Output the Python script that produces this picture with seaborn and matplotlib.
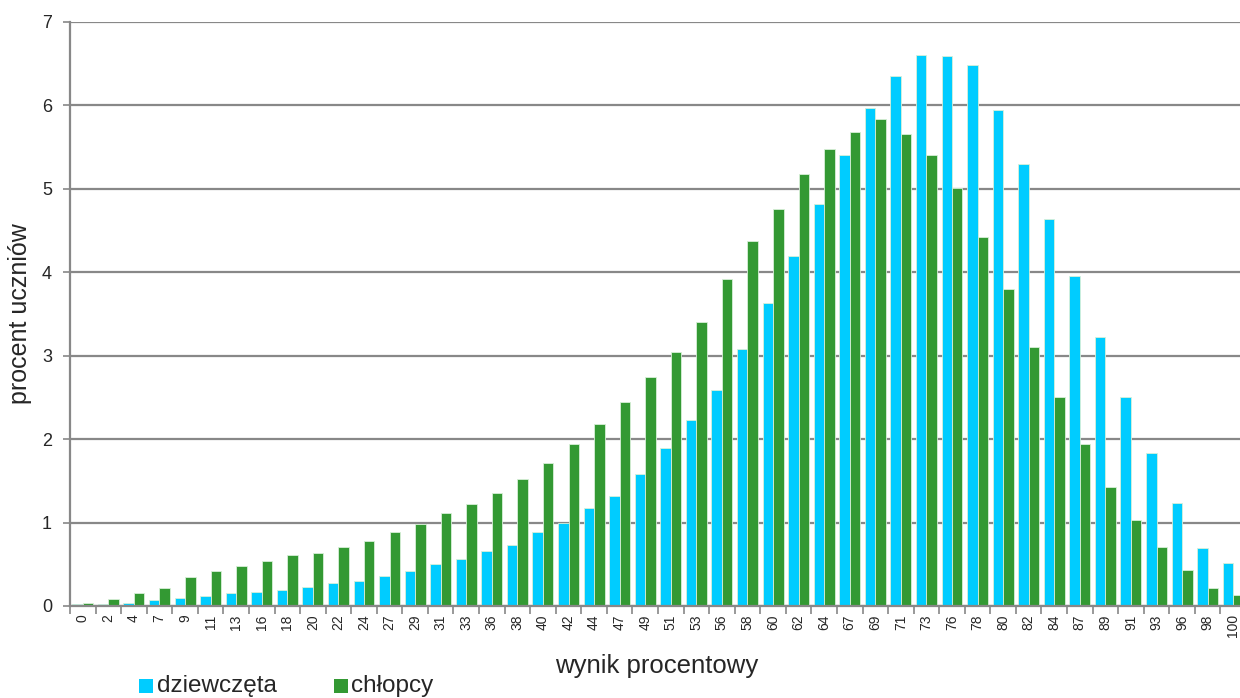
import pandas as pd
import numpy as np
import matplotlib
matplotlib.use("Agg")
import matplotlib.pyplot as plt
import seaborn as sns
from matplotlib.ticker import FixedLocator
from matplotlib.patches import Rectangle

# wynik procentowy (categories on x axis)
scores = [0, 2, 4, 7, 9, 11, 13, 16, 18, 20, 22, 24, 27, 29, 31, 33, 36, 38, 40, 42,
          44, 47, 49, 51, 53, 56, 58, 60, 62, 64, 67, 69, 71, 73, 76, 78, 80, 82, 84, 87,
          89, 91, 93, 96, 98, 100]

# procent uczniów - dziewczęta
girls = [0.02, 0.02, 0.04, 0.07, 0.09, 0.12, 0.15, 0.17, 0.19, 0.23, 0.27, 0.30, 0.36, 0.42,
         0.50, 0.56, 0.66, 0.73, 0.89, 1.00, 1.17, 1.32, 1.58, 1.89, 2.23, 2.59, 3.08, 3.63,
         4.20, 4.82, 5.41, 5.97, 6.35, 6.61, 6.59, 6.49, 5.95, 5.30, 4.64, 3.95, 3.23, 2.51,
         1.83, 1.24, 0.70, 0.51]

# procent uczniów - chłopcy
boys = [0.03, 0.08, 0.15, 0.22, 0.35, 0.42, 0.48, 0.54, 0.61, 0.63, 0.71, 0.78, 0.89, 0.98,
        1.11, 1.22, 1.36, 1.52, 1.71, 1.94, 2.18, 2.45, 2.74, 3.04, 3.41, 3.92, 4.37, 4.76,
        5.18, 5.48, 5.68, 5.84, 5.66, 5.40, 5.01, 4.42, 3.80, 3.11, 2.50, 1.94, 1.43, 1.03,
        0.71, 0.43, 0.21, 0.13]

series_names = ["dziewczęta", "chłopcy"]
colors = ["#00CCFF", "#339933"]

df = pd.DataFrame({
    "wynik": [str(s) for s in scores] * 2,
    "procent": girls + boys,
    "plec": [series_names[0]] * len(scores) + [series_names[1]] * len(scores),
})

sns.set_theme(style="white")
plt.rcParams["font.family"] = ["Liberation Sans", "DejaVu Sans"]

W, H = 1240, 698
fig = plt.figure(figsize=(W / 100, H / 100), dpi=100)
# plot area is cut off at the right edge, like in the original
ax = fig.add_axes([70 / W, 92 / H, 1176 / W, 584 / H])

sns.barplot(data=df, x="wynik", y="procent", hue="plec", palette=colors,
            order=[str(s) for s in scores], hue_order=series_names,
            width=0.82, gap=0, ax=ax, legend=False, linewidth=0.6,
            edgecolor="#d8f0d8", saturation=1)

ax.set_xlim(-0.5, len(scores) - 0.5)
ax.set_ylim(0, 7)
ax.set_yticks(range(0, 8))
ax.yaxis.grid(True, color="#888888", linewidth=1.6)
ax.set_axisbelow(True)

for side in ["top", "right"]:
    ax.spines[side].set_visible(False)
for side in ["left", "bottom"]:
    ax.spines[side].set_color("#888888")
    ax.spines[side].set_linewidth(1.6)

ax.tick_params(axis="y", which="major", length=5, color="#888888", width=1.2,
               labelsize=13, pad=8, left=True)
ax.tick_params(axis="x", which="major", length=0, labelsize=10, pad=6)
ax.xaxis.set_minor_locator(FixedLocator(np.arange(-0.5, len(scores), 1.0)))
ax.tick_params(axis="x", which="minor", length=6, color="#888888", width=1.2,
               bottom=True)
plt.setp(ax.get_xticklabels(), rotation=90, va="top", ha="center")

ax.set_xlabel("wynik procentowy", fontsize=18.5)
ax.xaxis.set_label_coords((657 - 70) / 1176, -0.082)
ax.set_ylabel("procent uczniów", fontsize=18)
ax.yaxis.set_label_coords(-38 / 1176, 0.5)

# legend at bottom-left
legend_y = 686
for x_box, x_text, name, col in [(139, 157, series_names[0], colors[0]),
                                 (334, 351, series_names[1], colors[1])]:
    fig.patches.append(Rectangle((x_box / W, (H - legend_y - 7) / H), 14 / W, 14 / H,
                                 transform=fig.transFigure, facecolor=col,
                                 edgecolor="none"))
    fig.text(x_text / W, 1 - legend_y / H, name, fontsize=17.5, va="center", ha="left")

fig.savefig("out.png", dpi=100)
plt.close(fig)
